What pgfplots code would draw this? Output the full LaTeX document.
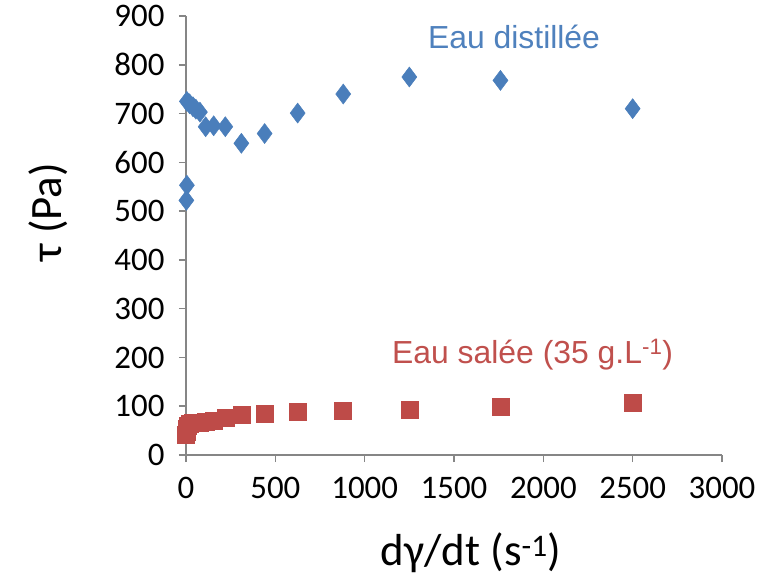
\documentclass[border=0pt]{standalone}
\usepackage{fontspec}
\setmainfont{Carlito}
\newfontfamily\arialf{Liberation Sans}
\usepackage{pgfplots}
\pgfplotsset{compat=1.18}
\definecolor{bluem}{HTML}{4A7EBB}
\definecolor{redm}{HTML}{BE4B48}
\definecolor{bluet}{HTML}{4F81BD}
\definecolor{redt}{HTML}{C0504D}
\definecolor{axg}{HTML}{868686}
\begin{document}
\begin{tikzpicture}
\useasboundingbox (-186bp,-122bp) rectangle (597bp,455bp);
\begin{axis}[
  at={(0,0)}, anchor=south west,
  scale only axis, width=536bp, height=439bp,
  xmin=0, xmax=3000, ymin=0, ymax=900,
  axis lines*=left,
  axis line style={axg, line width=1.5bp},
  xtick={0,500,...,3000}, ytick={0,100,...,900},
  tick align=outside, major tick length=7bp,
  tick style={axg, line width=1.5bp},
  ticklabel style={font=\fontsize{33}{38}\selectfont, black},
  yticklabel style={xshift=-11bp},
  xticklabel style={yshift=-12bp},
  /pgf/number format/assume math mode=true,
  /pgf/number format/1000 sep={},
  xlabel={dγ/dt (s\textsuperscript{-1})},
  ylabel={τ (Pa)},
  label style={font=\fontsize{45}{50}\selectfont},
  xlabel style={at={(axis description cs:0.532,-0.2506)}, anchor=base},
  ylabel style={at={(axis description cs:-0.2332,0.553)}, anchor=base},
  clip=false,
]
\addplot[only marks, mark=diamond*, mark size=10bp, mark options={fill=bluem, draw=bluem, line width=0.5bp}] coordinates {
(2,522) (5,553) (5,725) (20,720) (39,714) (55,709) (78,703) (110,673) (155,675) (220,673) (310,639) (440,659) (625,701) (880,740) (1250,775) (1760,768) (2500,710)
};
\addplot[only marks, mark=square*, mark size=8.5bp, mark options={fill=redm, draw=redm, line width=0.5bp}] coordinates {
(1,42) (3,48) (5,54) (10,60) (20,64) (39,66) (55,67) (78,67) (110,69) (155,71) (220,76) (310,82) (440,85) (625,88) (880,91) (1250,93) (1760,98) (2500,108)
};
\node[anchor=base west, inner sep=0pt, text=bluet, font=\arialf\fontsize{32}{38}\selectfont] at (axis cs:1354,833) {Eau distillée};
\node[anchor=base west, inner sep=0pt, text=redt, font=\arialf\fontsize{32}{38}\selectfont] at (axis cs:1153,188.5) {Eau salée (35 g.L\textsuperscript{-1})};
\end{axis}
\end{tikzpicture}
\end{document}
